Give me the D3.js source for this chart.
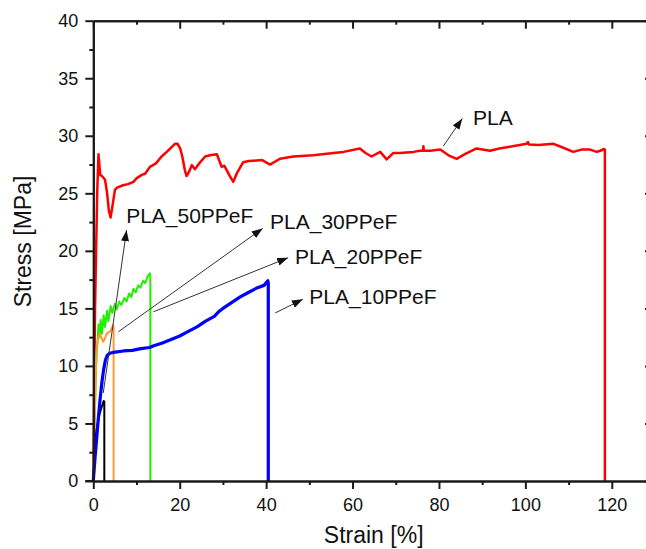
<!DOCTYPE html>
<html><head><meta charset="utf-8">
<script src="https://cdn.jsdelivr.net/npm/d3@7"></script>
<style>html,body{margin:0;padding:0;background:#fff;}svg{display:block;font-family:Arial,"Liberation Sans",sans-serif;}</style>
</head><body><svg id="c" width="646" height="549"></svg>
<script>
// ---- data (strain %, stress MPa) ----
const xTicks = [0,20,40,60,80,100,120];
const yTicks = [0,5,10,15,20,25,30,35,40];
const seriesNames = ["PLA","PLA_30PPeF","PLA_20PPeF","PLA_50PPeF","PLA_10PPeF"];
const seriesColors = ["#ff0000","#22ee00","#ff9a2e","#000000","#0000ff"];
const plaData = [[0,0],[0.4,15],[0.9,25],[1.2,28.4],[1.4,27.5],[1.6,26.6],[2.0,26.5],[2.7,26.2],[3.2,25.0],[3.6,23.5],[4.0,22.9],[4.4,23.8],[5.0,25.3],[5.5,25.5],[6.9,25.7],[8,25.8],[9.3,26.0],[10,26.3],[11.2,26.6],[12,26.7],[13.1,27.3],[14.5,27.6],[15.8,28.2],[17,28.6],[18.9,29.3],[19.5,29.3],[20.1,28.9],[20.6,28.2],[21.2,27.0],[21.6,26.5],[22.2,26.9],[22.8,27.45],[23.5,27.1],[24.5,27.6],[25.9,28.2],[27,28.3],[28.6,28.4],[29.1,27.9],[29.7,27.3],[30.3,27.4],[30.9,27.0],[31.6,26.5],[32.4,26.0],[33.3,26.8],[34.7,27.7],[36,27.8],[39,27.9],[40.9,27.5],[43.2,28.0],[46.3,28.2],[50.9,28.3],[55.6,28.5],[57.9,28.6],[61.7,28.9],[63,28.5],[64.4,28.2],[66.4,28.6],[67.9,27.95],[69.4,28.5],[71,28.5],[74.1,28.6],[75.6,28.7],[76.3,28.7],[76.4,29.1],[76.5,28.7],[78,28.7],[80.3,28.8],[82.2,28.3],[84.1,28.0],[86,28.4],[88.7,28.9],[91.8,28.7],[94,28.9],[96.4,29.05],[100.3,29.3],[100.6,29.45],[100.8,29.25],[103,29.2],[106.5,29.3],[108.5,29.0],[111.1,28.6],[113,28.8],[115,28.8],[116.5,28.6],[117.3,28.7],[118.2,28.85],[118.4,28.8],[118.4,0]];
const ppef30Data = [[0,0],[0.3,5],[0.6,9.5],[0.8,11.2],[1.0,12.3],[1.2,13.6],[1.4,12.5],[1.7,14.0],[2.0,12.8],[2.4,14.4],[2.7,13.4],[3.2,14.8],[3.5,13.9],[4.0,15.2],[4.4,14.6],[5.0,15.4],[5.4,14.9],[6.0,15.6],[6.5,15.3],[7.2,15.9],[7.7,15.6],[8.3,16.3],[8.8,16.0],[9.3,16.7],[9.8,16.4],[10.4,17.0],[10.9,16.8],[11.5,17.4],[12.0,17.2],[12.6,17.8],[13.1,18.05],[13.2,17.6],[13.2,0]];
const ppef20Data = [[0,0],[0.3,5],[0.6,9.8],[0.8,11.7],[1.2,12.5],[1.55,12.8],[1.9,12.4],[2.3,12.1],[2.7,12.4],[3.1,12.8],[3.9,13.0],[4.6,13.55],[4.7,13.4],[4.7,0]];
const ppef50Data = [[0,0],[0.3,2.5],[0.6,4.0],[1.0,5.0],[1.5,5.9],[2.0,6.5],[2.4,6.95],[2.55,6.9],[2.55,0]];
const ppef10Data = [[0,0],[0.4,2],[0.8,3.8],[1.2,5.6],[1.6,7.2],[2.0,8.6],[2.4,9.7],[2.8,10.5],[3.2,10.9],[3.8,11.1],[5,11.2],[7,11.3],[9,11.35],[11,11.5],[13,11.6],[14,11.75],[16,12.0],[18,12.3],[20,12.6],[22,13.0],[24,13.4],[26,13.9],[28,14.3],[29,14.7],[30,15.0],[32,15.5],[34,16.0],[36,16.4],[38,16.8],[39.5,17.0],[40.4,17.4],[40.5,17.2],[40.5,0]];
const allSeries = [plaData, ppef30Data, ppef20Data, ppef50Data, ppef10Data];
// annotations: label, text anchor (x,y), arrow start (x,y), arrow tip (x,y) in data units
const annLabels = ["PLA","PLA_50PPeF","PLA_30PPeF","PLA_20PPeF","PLA_10PPeF"];
const annTextPos = [[87.9,30.93],[7.6,22.4],[40.9,21.9],[46.7,18.9],[50.0,15.38]];
const annFrom = [[81.0,29.1],[2.3,7.65],[5.8,12.97],[13.9,14.7],[42.1,14.6]];
const annTo = [[85.4,31.5],[7.7,21.8],[39.2,21.95],[45.1,19.4],[48.5,15.8]];

// ---- chart ----
const svg = d3.select("#c");
svg.append("rect").attr("width",646).attr("height",549).attr("fill","#fff");
const L = 93.3, R = 655, T = 20.7, B = 481;
const x = d3.scaleLinear().domain([0,130]).range([L,R]);
const y = d3.scaleLinear().domain([0,40]).range([B,T]);

const defs = svg.append("defs");
defs.append("marker").attr("id","ah").attr("markerUnits","userSpaceOnUse")
  .attr("markerWidth",12).attr("markerHeight",10).attr("refX",11).attr("refY",4)
  .attr("orient","auto").append("path").attr("d","M0,0 L11,4 L0,8 Z").attr("fill","#111");

const line = d3.line().x(d=>x(d[0])).y(d=>y(d[1]));
const g = svg.append("g");
allSeries.forEach((s,i)=>{
  g.append("path").datum(s).attr("d",line).attr("fill","none")
   .attr("stroke",seriesColors[i]).attr("stroke-width", i===4?3.2:(i===0?2.5:2))
   .attr("stroke-linejoin","round");
});

// axes
function styleAxis(sel){
  sel.select(".domain").attr("stroke","#1a1a1a").attr("stroke-width",2);
  sel.selectAll(".tick line").attr("stroke","#1a1a1a").attr("stroke-width",2);
  sel.selectAll("text").attr("fill","#111").style("font-size","18px").style("font-family","Arial, 'Liberation Sans', sans-serif");
}
const xMinor = d3.range(10,130,20);
const yMinor = d3.range(2.5,40,5);
// bottom
svg.append("g").attr("transform",`translate(0,${B})`).call(d3.axisBottom(x).tickValues(xTicks).tickSize(8).tickPadding(9).tickSizeOuter(0)).call(styleAxis);
svg.append("g").attr("transform",`translate(0,${B})`).call(d3.axisBottom(x).tickValues(xMinor).tickSize(4).tickFormat("").tickSizeOuter(0)).call(styleAxis);
// top
svg.append("g").attr("transform",`translate(0,${T})`).call(d3.axisBottom(x).tickValues(xTicks).tickSize(8).tickFormat("").tickSizeOuter(0)).call(styleAxis);
svg.append("g").attr("transform",`translate(0,${T})`).call(d3.axisBottom(x).tickValues(xMinor).tickSize(4).tickFormat("").tickSizeOuter(0)).call(styleAxis);
// left
svg.append("g").attr("transform",`translate(${L},0)`).call(d3.axisLeft(y).tickValues(yTicks).tickSize(8).tickPadding(7).tickSizeOuter(0)).call(styleAxis);
svg.append("g").attr("transform",`translate(${L},0)`).call(d3.axisLeft(y).tickValues(yMinor).tickSize(4).tickFormat("").tickSizeOuter(0)).call(styleAxis);
// right
svg.append("g").attr("transform",`translate(${R},0)`).call(d3.axisLeft(y).tickValues(yTicks).tickSize(10).tickFormat("").tickSizeOuter(0)).call(styleAxis);
svg.append("line").attr("x1",L-8).attr("x2",L).attr("y1",B).attr("y2",B).attr("stroke","#1a1a1a").attr("stroke-width",2);

// titles
svg.append("text").attr("x",373.7).attr("y",543).attr("text-anchor","middle")
  .style("font-size","23px").attr("fill","#111").text("Strain [%]");
svg.append("text").attr("transform","translate(30.5,241.5) rotate(-90)").attr("text-anchor","middle")
  .style("font-size","23px").attr("fill","#111").text("Stress [MPa]");

// annotations
const ga = svg.append("g");
annLabels.forEach((lab,i)=>{
  ga.append("line").attr("x1",x(annFrom[i][0])).attr("y1",y(annFrom[i][1]))
    .attr("x2",x(annTo[i][0])).attr("y2",y(annTo[i][1]))
    .attr("stroke","#333").attr("stroke-width",1).attr("marker-end","url(#ah)");
  ga.append("text").attr("x",x(annTextPos[i][0])).attr("y",y(annTextPos[i][1]))
    .style("font-size","21px").attr("fill","#111").text(lab);
});
</script></body></html>
